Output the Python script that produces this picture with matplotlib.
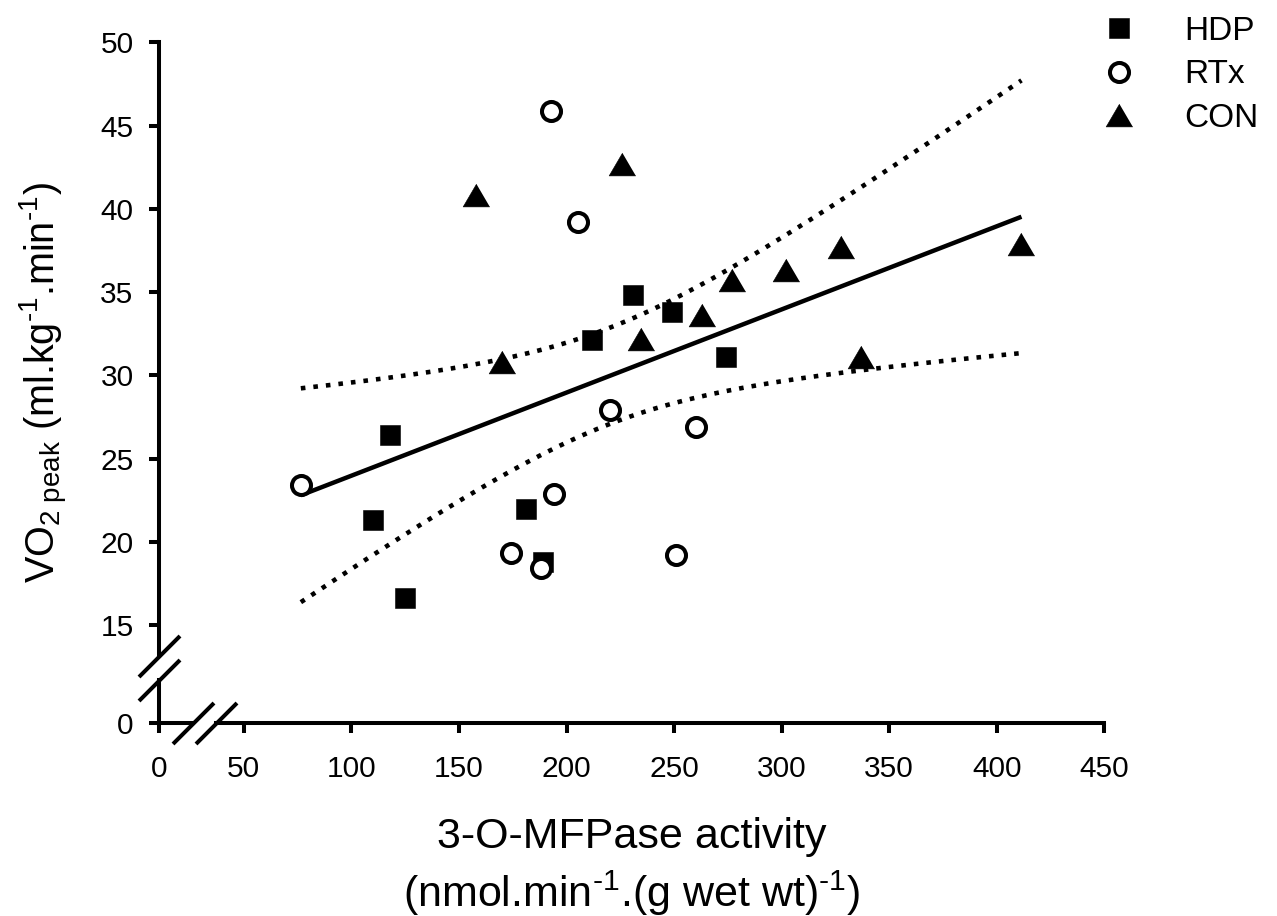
import numpy as np
import matplotlib
matplotlib.use("Agg")
import matplotlib.pyplot as plt

plt.rcParams["font.family"] = ["Liberation Sans", "DejaVu Sans"]
plt.rcParams["mathtext.fontset"] = "custom"
plt.rcParams["mathtext.rm"] = "Liberation Sans"
plt.rcParams["mathtext.it"] = "Liberation Sans"
plt.rcParams["mathtext.default"] = "rm"

# data
hdp_x = [110, 118, 125, 181, 189, 212, 231, 249, 274]
hdp_y = [21.3, 26.4, 16.6, 22.0, 18.8, 32.1, 34.8, 33.8, 31.1]
rtx_x = [76.5, 174, 188, 194, 193, 205.5, 220, 251, 260]
rtx_y = [23.4, 19.3, 18.4, 22.9, 45.9, 39.2, 27.9, 19.2, 26.9]
con_x = [158, 170, 226, 234.5, 263, 277, 302, 327.5, 337, 411.5]
con_y = [40.8, 30.8, 42.7, 32.2, 33.6, 35.7, 36.3, 37.7, 31.1, 37.9]

x_ticks = [50, 100, 150, 200, 250, 300, 350, 400, 450]
y_ticks = [15, 20, 25, 30, 35, 40, 45, 50]

# broken axes: "0" sits just below/left of the first real value
X0 = 10.7
Y0 = 9.1

# linear fit + 95% confidence band on all points
all_x = np.array(hdp_x + rtx_x + con_x, dtype=float)
all_y = np.array(hdp_y + rtx_y + con_y, dtype=float)
n = len(all_x)
slope, intercept = np.polyfit(all_x, all_y, 1)
resid = all_y - (slope * all_x + intercept)
s = np.sqrt(np.sum(resid ** 2) / (n - 2))
sxx = np.sum((all_x - all_x.mean()) ** 2)
t_crit = 2.0555  # t(0.975, df=26)
xs = np.linspace(all_x.min(), all_x.max(), 200)
fit = slope * xs + intercept
half = t_crit * s * np.sqrt(1 / n + (xs - all_x.mean()) ** 2 / sxx)

fig = plt.figure(figsize=(12.77, 9.16), dpi=100)
ax = fig.add_axes([0.12474, 0.21037, 0.74002, 0.74345])

lw = 2.9
ax.plot(xs, fit, color="black", lw=3.2, solid_capstyle="butt", zorder=2)
ax.plot(xs, fit + half, color="black", lw=3.3, linestyle=(0, (1, 1.75)),
        dash_capstyle="butt", zorder=2)
ax.plot(xs, fit - half, color="black", lw=3.3, linestyle=(0, (1, 1.75)),
        dash_capstyle="butt", zorder=2)

tri = [(0, 0.5), (-0.585, -0.5), (0.585, -0.5)]
ax.plot(hdp_x, hdp_y, ls="none", marker="s", ms=14.6, mew=0.4,
        color="black", label="HDP", zorder=3)
ax.plot(rtx_x, rtx_y, ls="none", marker="o", ms=13.7, mew=2.9,
        mfc="white", mec="black", label="RTx", zorder=4)
ax.plot(con_x, con_y, ls="none", marker=tri, ms=19.2, mew=0.4,
        color="black", label="CON", zorder=5)

ax.set_xlim(X0, 450)
ax.set_ylim(Y0, 50)
ax.set_xticks([X0] + x_ticks)
ax.set_xticklabels(["0"] + [str(v) for v in x_ticks])
ax.set_yticks([Y0] + y_ticks)
ax.set_yticklabels(["0"] + [str(v) for v in y_ticks])
ax.tick_params(axis="both", direction="out", length=7.5, width=lw,
               labelsize=21.5, color="black")
ax.tick_params(axis="x", pad=15)
ax.tick_params(axis="y", pad=11)

for side in ["top", "right"]:
    ax.spines[side].set_visible(False)
ax.spines["left"].set_linewidth(lw)
ax.spines["bottom"].set_linewidth(lw)

# axis breaks
ybrk = (11.68, 13.12)
xbrk = (26.4, 37.0)
ax.spines["left"].set_bounds(ybrk[1], 50)
ax.spines["bottom"].set_bounds(xbrk[1], 450)
ax.plot([X0, X0], [Y0, ybrk[0]], color="black", lw=lw,
        solid_capstyle="projecting", clip_on=False, zorder=6)
ax.plot([X0, xbrk[0]], [Y0, Y0], color="black", lw=lw,
        solid_capstyle="projecting", clip_on=False, zorder=6)
slash = [(-1, -1), (1, 1)]
ax.plot([X0, X0], list(ybrk), ls="none", marker=slash, ms=29.5, mew=lw,
        color="black", clip_on=False, zorder=6)
ax.plot(list(xbrk), [Y0, Y0], ls="none", marker=slash, ms=29.5, mew=lw,
        color="black", clip_on=False, zorder=6)

ax.set_ylabel(r"VO$_{2\ peak}$ (ml.kg$^{\text{-1}}$.min$^{\text{-1}}$)", fontsize=28.5)
ax.yaxis.set_label_coords(-0.094, 0.5)
ax.set_xlabel("3-O-MFPase activity\n" + r"(nmol.min$^{\text{-1}}$.(g wet wt)$^{\text{-1}}$)",
              fontsize=31, linespacing=1.3, va="top")
ax.xaxis.set_label_coords(0.5, -0.1376)

fig.legend(loc="upper left", bbox_to_anchor=(0.8634, 0.9824), frameon=False,
           fontsize=24, handlelength=1.0, handletextpad=1.44,
           labelspacing=0.37, borderpad=0, borderaxespad=0, numpoints=1)

fig.savefig("out.png", dpi=100)
